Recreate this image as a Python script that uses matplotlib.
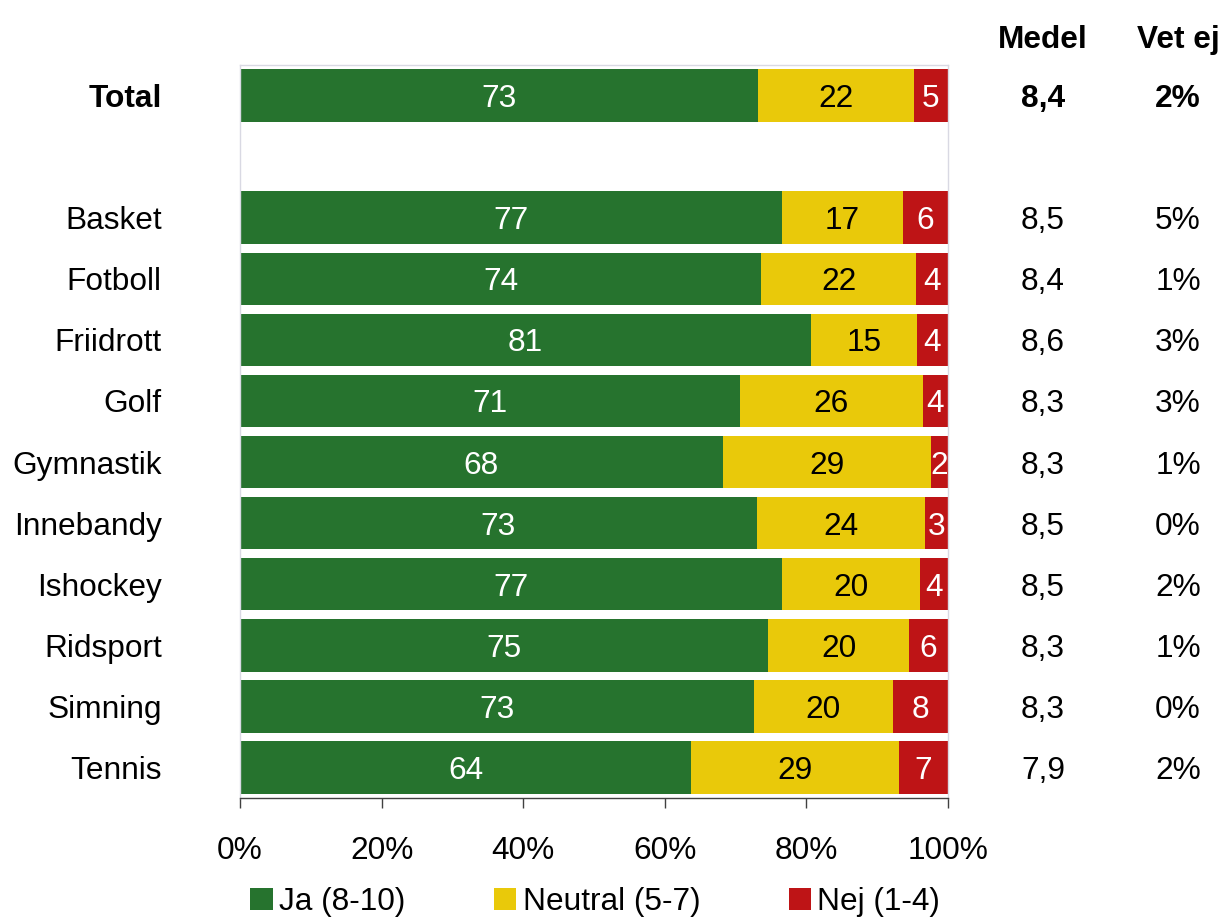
import numpy as np
import matplotlib.pyplot as plt
from matplotlib.transforms import blended_transform_factory
from matplotlib.patches import Patch

plt.rcParams['font.family'] = ['Liberation Sans', 'DejaVu Sans']

categories = ['Total', 'Basket', 'Fotboll', 'Friidrott', 'Golf', 'Gymnastik',
              'Innebandy', 'Ishockey', 'Ridsport', 'Simning', 'Tennis']
ja = [73.2, 76.6, 73.6, 80.6, 70.6, 68.2, 73.0, 76.6, 74.6, 72.6, 63.7]
neutral = [22.0, 17.0, 21.9, 15.0, 25.8, 29.4, 23.8, 19.5, 19.9, 19.6, 29.4]
nej = [4.8, 6.4, 4.5, 4.4, 3.6, 2.4, 3.2, 3.9, 5.5, 7.8, 6.9]
medel = ['8,4', '8,5', '8,4', '8,6', '8,3', '8,3', '8,5', '8,5', '8,3', '8,3', '7,9']
vet_ej = ['2%', '5%', '1%', '3%', '3%', '1%', '0%', '2%', '1%', '0%', '2%']

series = [('Ja (8-10)', ja, '#26732E', 'white'),
          ('Neutral (5-7)', neutral, '#E9C90A', 'black'),
          ('Nej (1-4)', nej, '#BE1416', 'white')]

fs = 22.8
# Total on row 0, empty row 1, sports on rows 2..11
ypos = np.array([0] + list(range(2, 2 + len(categories) - 1)))

fig = plt.figure(figsize=(12.25, 9.18), dpi=100)
ax = fig.add_axes([0.1959, 0.1307, 0.578, 0.7985])

left = np.zeros(len(categories))
for name, vals, color, tcolor in series:
    vals = np.array(vals)
    ax.barh(ypos, vals, left=left, height=0.86, color=color, edgecolor='none')
    for y, l, v in zip(ypos, left, vals):
        ax.text(l + v / 2, y, f'{v:.0f}', ha='center', va='center_baseline',
                color=tcolor, fontsize=fs)
    left = left + vals

ax.set_xlim(0, 100)
ax.set_ylim(11.5, -0.5)
ax.set_xticks(np.arange(0, 101, 20))
ax.set_xticklabels([f'{t}%' for t in range(0, 101, 20)], fontsize=fs)
ax.set_yticks([])
ax.tick_params(axis='x', direction='out', length=7.5, width=1, color='#404040', pad=20)
for s in ['top', 'left', 'right']:
    ax.spines[s].set_color('#D9D9E3')
    ax.spines[s].set_linewidth(1)
ax.spines['bottom'].set_color('#404040')
ax.spines['bottom'].set_linewidth(1)

tr = blended_transform_factory(fig.transFigure, ax.transData)
for i, (cat, y) in enumerate(zip(categories, ypos)):
    w = 'bold' if i == 0 else 'normal'
    ax.text(0.132, y, cat, transform=tr, ha='right', va='center_baseline',
            fontsize=fs, fontweight=w, clip_on=False)
    ax.text(1043 / 1225, y, medel[i], transform=tr, ha='center', va='center_baseline',
            fontsize=fs, fontweight=w, clip_on=False)
    ax.text(1178 / 1225, y, vet_ej[i], transform=tr, ha='center', va='center_baseline',
            fontsize=fs, fontweight=w, clip_on=False)

ax.text(1043 / 1225, -0.96, 'Medel', transform=tr, ha='center', va='center_baseline',
        fontsize=fs, fontweight='bold', clip_on=False)
ax.text(1178 / 1225, -0.96, 'Vet ej', transform=tr, ha='center', va='center_baseline',
        fontsize=fs, fontweight='bold', clip_on=False)

handles = [Patch(facecolor=c, edgecolor='none', label=n) for n, _, c, _ in series]
fig.legend(handles=handles, loc='center', bbox_to_anchor=(0.486, 1 - 902 / 918),
           ncol=3, frameon=False, fontsize=fs, handlelength=0.7, handleheight=0.7,
           handletextpad=0.2, columnspacing=2.8, borderpad=0)

fig.savefig('out.png', dpi=100)
